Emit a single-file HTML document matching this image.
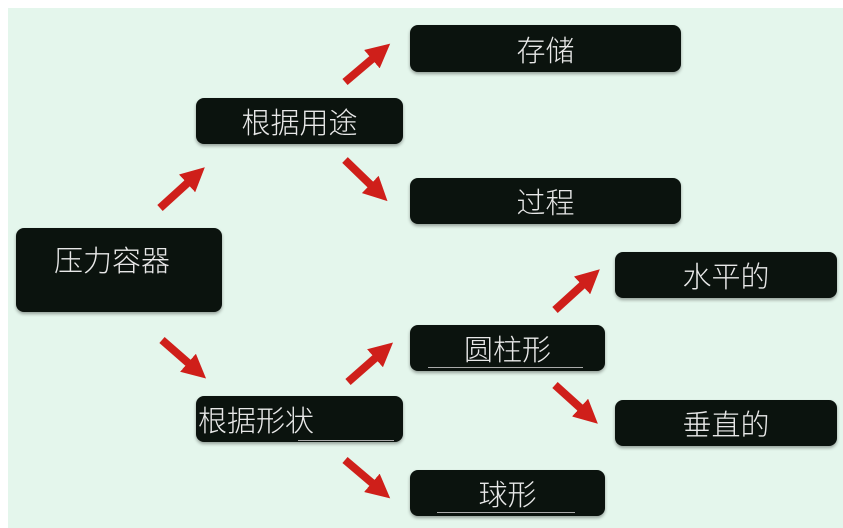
<!DOCTYPE html><html><head><meta charset="utf-8"><style>
body{margin:0;width:843px;height:528px;background:#fff;position:relative;overflow:hidden;font-family:"Liberation Sans","Noto Sans CJK SC",sans-serif}
.bg{position:absolute;left:8px;top:8px;width:835px;height:520px;background:#e4f6ec}
.b{position:absolute;background:#0b130e;border-radius:8px;color:#e8e8e8;font-size:29px;font-weight:300;box-shadow:0 2px 3px rgba(0,0,0,.35);display:flex;align-items:center;justify-content:center}
.u{position:absolute;height:1px;background:#aaa}
svg{position:absolute;left:0;top:0}
</style></head><body><div class="bg"></div>
<div class="b" style="left:16px;top:228px;width:206px;height:84px;align-items:flex-start;justify-content:flex-start"><span style="position:absolute;left:38px;top:10px">压力容器</span></div>
<div class="b" style="left:196px;top:98px;width:207px;height:46px">根据用途</div>
<div class="b" style="left:410px;top:25px;width:271px;height:47px">存储</div>
<div class="b" style="left:410px;top:178px;width:271px;height:46px">过程</div>
<div class="b" style="left:410px;top:325px;width:195px;height:46px">圆柱形</div>
<div class="b" style="left:615px;top:252px;width:222px;height:46px">水平的</div>
<div class="b" style="left:615px;top:400px;width:222px;height:46px">垂直的</div>
<div class="b" style="left:196px;top:396px;width:207px;height:46px;justify-content:flex-start"><span style="margin-left:2px">根据形状</span></div>
<div class="b" style="left:410px;top:470px;width:195px;height:46px">球形</div>
<div class="u" style="left:428px;top:367px;width:155px"></div>
<div class="u" style="left:298px;top:440px;width:96px"></div>
<div class="u" style="left:437px;top:512px;width:138px"></div>
<svg width="843" height="528"><defs><marker id="a" markerWidth="3" markerHeight="3" refX="1" refY="1.5" orient="auto"><path d="M0,0L3,1.5L0,3z" fill="#cf1f1a"/></marker></defs>
<g stroke="#cf1f1a" stroke-width="8" marker-end="url(#a)">
<line x1="160" y1="208" x2="193" y2="178"/>
<line x1="345" y1="82" x2="378" y2="54"/>
<line x1="345" y1="160" x2="376" y2="190"/>
<line x1="162" y1="340" x2="194" y2="368"/>
<line x1="348" y1="382" x2="381" y2="353"/>
<line x1="345" y1="460" x2="378" y2="488"/>
<line x1="555" y1="310" x2="588" y2="280"/>
<line x1="555" y1="385" x2="586" y2="413"/>
</g></svg>
</body></html>
